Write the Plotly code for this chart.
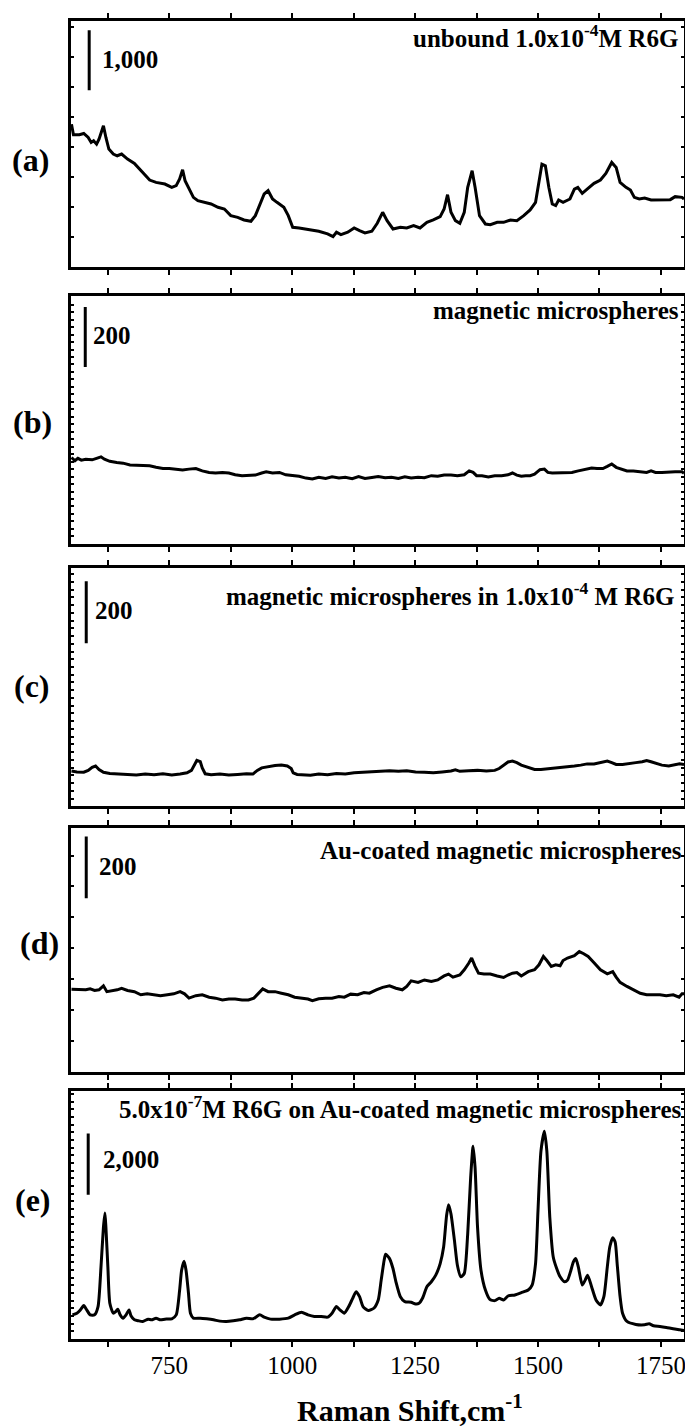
import plotly.graph_objects as go

# ---------------- data (Raman shift in cm-1, intensity in counts, offset arbitrary) ----------------
shift_a = [551, 555, 567, 576, 585, 591, 596, 602, 607, 616,
           621, 627, 636, 644, 653, 665, 679, 692, 701, 710,
           723, 741, 755, 764, 771, 777, 782, 790, 799, 808,
           822, 835, 849, 862, 875, 889, 902, 916, 925, 934,
           943, 951, 960, 969, 983, 992, 1001, 1014, 1037, 1054,
           1072, 1083, 1090, 1099, 1113, 1126, 1137, 1148, 1162, 1173,
           1184, 1193, 1205, 1220, 1233, 1247, 1260, 1274, 1287, 1301,
           1309, 1316, 1323, 1332, 1341, 1350, 1357, 1366, 1372, 1381,
           1393, 1403, 1417, 1430, 1444, 1457, 1471, 1484, 1495, 1502,
           1508, 1515, 1522, 1529, 1536, 1542, 1551, 1565, 1574, 1581,
           1590, 1600, 1614, 1627, 1638, 1650, 1659, 1667, 1679, 1688,
           1696, 1706, 1717, 1730, 1744, 1757, 1769, 1779, 1793, 1797]
counts_a = [2375, 2198, 2198, 2220, 2153, 2070, 2098, 2042, 2126, 2348,
            2153, 1959, 1876, 1848, 1876, 1793, 1721, 1598, 1515, 1443,
            1404, 1376, 1321, 1349, 1460, 1615, 1432, 1293, 1154, 1099,
            1071, 1043, 988, 960, 849, 821, 777, 755, 849, 1043,
            1210, 1265, 1127, 1071, 988, 849, 655, 644, 611, 588,
            544, 500, 572, 533, 572, 644, 599, 561, 588, 722,
            905, 766, 627, 655, 644, 683, 644, 738, 777, 833,
            960, 1199, 905, 766, 722, 905, 1321, 1598, 1321, 849,
            710, 699, 738, 738, 777, 766, 849, 944, 1071, 1432,
            1709, 1682, 1321, 1043, 1016, 1110, 1071, 1127, 1293, 1321,
            1221, 1293, 1388, 1443, 1554, 1737, 1654, 1404, 1321, 1277,
            1154, 1127, 1143, 1110, 1110, 1121, 1116, 1166, 1154, 1127]

shift_b = [551, 558, 564, 571, 580, 593, 602, 611, 618, 629,
           643, 656, 670, 683, 696, 710, 723, 737, 750, 764,
           777, 790, 804, 817, 831, 844, 858, 871, 884, 898,
           911, 925, 938, 947, 960, 974, 987, 1001, 1014, 1028,
           1041, 1054, 1068, 1081, 1095, 1108, 1122, 1135, 1148, 1162,
           1175, 1189, 1202, 1216, 1229, 1242, 1256, 1269, 1283, 1296,
           1309, 1323, 1336, 1350, 1360, 1368, 1375, 1386, 1399, 1412,
           1426, 1439, 1448, 1457, 1466, 1475, 1484, 1493, 1504, 1513,
           1520, 1529, 1542, 1556, 1569, 1582, 1596, 1609, 1620, 1632,
           1641, 1650, 1659, 1672, 1681, 1694, 1708, 1721, 1730, 1739,
           1752, 1766, 1779, 1793, 1797]
counts_b = [289, 278, 286, 280, 283, 281, 286, 291, 283, 276,
            272, 270, 264, 263, 261, 261, 256, 252, 252, 250,
            247, 250, 252, 244, 239, 237, 239, 237, 231, 228,
            230, 230, 237, 241, 237, 239, 231, 228, 226, 220,
            217, 223, 219, 224, 220, 223, 218, 225, 219, 222,
            225, 221, 223, 219, 224, 220, 223, 221, 228, 226,
            230, 230, 228, 231, 244, 239, 228, 228, 224, 228,
            228, 231, 237, 230, 226, 228, 228, 233, 248, 250,
            239, 237, 237, 239, 239, 244, 248, 254, 252, 252,
            259, 267, 256, 250, 244, 244, 242, 239, 244, 239,
            239, 241, 241, 241, 236]

shift_c = [551, 562, 576, 585, 593, 600, 607, 616, 629, 647,
           665, 683, 701, 719, 737, 755, 772, 786, 795, 801,
           806, 813, 817, 823, 835, 853, 871, 889, 907, 920,
           929, 938, 951, 965, 978, 990, 998, 1002, 1010, 1023,
           1037, 1054, 1072, 1090, 1108, 1126, 1144, 1162, 1180, 1198,
           1216, 1233, 1251, 1269, 1287, 1305, 1323, 1332, 1341, 1359,
           1377, 1395, 1412, 1421, 1430, 1439, 1448, 1457, 1466, 1480,
           1493, 1506, 1524, 1542, 1560, 1574, 1587, 1600, 1614, 1627,
           1641, 1650, 1659, 1672, 1685, 1699, 1712, 1721, 1730, 1744,
           1752, 1766, 1779, 1788, 1797]
counts_c = [114, 111, 110, 116, 126, 130, 119, 110, 106, 105,
            103, 101, 104, 102, 105, 101, 104, 108, 116, 135,
            148, 144, 124, 105, 102, 104, 101, 103, 105, 104,
            116, 124, 128, 132, 133, 130, 122, 108, 103, 101,
            100, 104, 102, 106, 104, 108, 109, 112, 113, 115,
            113, 115, 111, 110, 108, 111, 114, 118, 113, 115,
            116, 114, 116, 122, 133, 143, 146, 141, 133, 126,
            119, 119, 122, 124, 126, 130, 133, 137, 137, 141,
            146, 141, 135, 135, 137, 141, 144, 148, 144, 137,
            133, 130, 135, 137, 135]

shift_d = [551, 567, 580, 589, 598, 607, 616, 623, 634, 644,
           653, 665, 679, 692, 705, 719, 732, 746, 759, 772,
           781, 790, 804, 817, 831, 844, 858, 871, 884, 898,
           911, 922, 931, 940, 951, 965, 978, 992, 1005, 1019,
           1032, 1041, 1054, 1068, 1081, 1095, 1106, 1119, 1133, 1146,
           1157, 1171, 1184, 1198, 1211, 1224, 1233, 1242, 1256, 1269,
           1283, 1296, 1309, 1318, 1327, 1341, 1350, 1359, 1365, 1372,
           1379, 1390, 1403, 1417, 1430, 1439, 1448, 1457, 1466, 1480,
           1493, 1502, 1511, 1518, 1527, 1536, 1545, 1551, 1560, 1574,
           1584, 1593, 1602, 1614, 1627, 1641, 1652, 1659, 1667, 1681,
           1694, 1708, 1721, 1735, 1748, 1761, 1775, 1787, 1793, 1797]
counts_d = [267, 265, 265, 268, 263, 265, 278, 259, 262, 265,
            270, 263, 259, 249, 252, 249, 246, 249, 252, 259,
            252, 238, 246, 249, 241, 238, 232, 235, 235, 232,
            232, 238, 254, 268, 259, 259, 254, 249, 241, 238,
            235, 230, 236, 238, 238, 243, 241, 251, 249, 256,
            254, 265, 273, 278, 270, 265, 276, 294, 289, 297,
            292, 297, 310, 316, 306, 313, 330, 351, 368, 341,
            319, 316, 316, 310, 305, 313, 319, 321, 310, 324,
            330, 346, 373, 360, 341, 346, 343, 360, 368, 376,
            389, 382, 373, 353, 330, 317, 324, 306, 289, 276,
            265, 254, 249, 249, 249, 246, 249, 241, 252, 252]

shift_e = [553, 562, 569, 576, 582, 589, 598, 605, 611, 616,
           619, 621, 625, 629, 636, 641, 645, 650, 656, 662,
           668, 672, 679, 687, 696, 707, 714, 723, 732, 741,
           755, 764, 771, 775, 780, 784, 789, 793, 799, 813,
           826, 840, 853, 866, 880, 893, 907, 920, 934, 943,
           956, 974, 992, 1005, 1019, 1032, 1045, 1059, 1072, 1081,
           1090, 1097, 1106, 1115, 1123, 1130, 1137, 1144, 1155, 1166,
           1175, 1181, 1187, 1190, 1198, 1205, 1211, 1220, 1229, 1242,
           1251, 1258, 1265, 1274, 1283, 1292, 1301, 1308, 1314, 1318,
           1323, 1330, 1336, 1343, 1350, 1357, 1363, 1368, 1372, 1377,
           1384, 1393, 1402, 1412, 1421, 1430, 1439, 1453, 1466, 1480,
           1488, 1495, 1500, 1506, 1513, 1518, 1524, 1531, 1538, 1545,
           1554, 1560, 1566, 1572, 1577, 1582, 1590, 1596, 1601, 1609,
           1618, 1627, 1634, 1641, 1646, 1652, 1657, 1661, 1667, 1672,
           1681, 1699, 1717, 1726, 1735, 1748, 1761, 1775, 1788, 1797]
counts_e = [789, 843, 951, 1092, 951, 789, 789, 1059, 2357, 3654,
            4119, 3654, 2357, 1167, 843, 897, 973, 789, 681, 789,
            951, 757, 627, 595, 573, 649, 627, 681, 627, 649,
            659, 789, 1600, 2248, 2540, 2248, 1492, 843, 681, 681,
            659, 627, 584, 573, 595, 627, 681, 659, 789, 713,
            649, 649, 681, 789, 876, 789, 735, 735, 713, 843,
            1059, 951, 843, 1059, 1330, 1546, 1384, 1059, 930, 1005,
            1276, 1924, 2573, 2767, 2627, 2303, 1870, 1384, 1222, 1200,
            1146, 1167, 1330, 1708, 1870, 2086, 2465, 3005, 4032, 4389,
            4086, 3221, 2411, 2032, 2140, 3438, 5275, 6302, 5600, 3654,
            2248, 1600, 1297, 1254, 1330, 1276, 1405, 1438, 1513, 1600,
            1762, 2465, 4194, 6140, 6789, 6140, 3978, 2681, 2303, 2032,
            1870, 1924, 2194, 2519, 2627, 2357, 1762, 1924, 2086, 1708,
            1276, 1113, 1384, 2357, 3005, 3308, 3167, 2465, 1384, 843,
            573, 476, 465, 497, 432, 411, 378, 335, 303, 281]

panel_letters = ["(a)", "(b)", "(c)", "(d)", "(e)"]
panel_titles = ["unbound 1.0x10<sup>-4</sup>M R6G",
                "magnetic microspheres",
                "magnetic microspheres in 1.0x10<sup>-4</sup> M R6G",
                "Au-coated magnetic microspheres",
                "5.0x10<sup>-7</sup>M R6G on Au-coated magnetic microspheres"]
scale_values = [1000, 200, 200, 200, 2000]
scale_labels = ["1,000", "200", "200", "200", "2,000"]
tick_values = [750, 1000, 1250, 1500, 1750]
tick_labels = ["750", "1000", "1250", "1500", "1750"]
minor_tick_values = [625, 875, 1125, 1375, 1625]
x_title = "Raman Shift,cm<sup>-1</sup>"

# ---------------- layout / style configuration ----------------
series = [(shift_a, counts_a), (shift_b, counts_b), (shift_c, counts_c),
          (shift_d, counts_d), (shift_e, counts_e)]
X_RANGE = [550, 1797]
domains = [[0.8137, 1.0], [0.6033, 0.7911], [0.4042, 0.5852], [0.2029, 0.3876], [0.0, 0.1885]]
y_ranges = [[0, 4096], [0, 828], [0, 771], [0, 789], [0, 8118]]
y_dticks = [500, 25, 25, 100, 250]
bar_x = [587, 579, 581, 581, 585]
bar_top = [3940, 792, 727, 762, 6713]
label_x = [609, 591, 595, 603, 611]
label_y = [3457, 698, 632, 665, 5870]
title_x = [1788, 1790, 1780, 1796, 1794]
title_y = [3846, 782, 687, 718, 7570]
letter_x = [-0.0668, -0.0636, -0.0636, -0.0522, -0.0619]
letter_y = [0.8944, 0.6961, 0.4955, 0.3006, 0.1058]

FONT = "Liberation Serif, Times New Roman, serif"
BLACK = "#000000"

fig = go.Figure()
shapes = []
annotations = []
layout_axes = {}

for i, (xs, ys) in enumerate(series):
    n = i + 1
    xa = "x" if n == 1 else f"x{n}"
    ya = "y" if n == 1 else f"y{n}"
    fig.add_trace(go.Scatter(
        x=xs, y=ys, mode="lines", xaxis=xa, yaxis=ya,
        line=dict(color=BLACK, width=3,
                  shape="spline" if n == 5 else "linear",
                  smoothing=0.6 if n == 5 else None),
        showlegend=False, hoverinfo="skip"))

    is_bottom = (n == 5)
    layout_axes["xaxis" if n == 1 else f"xaxis{n}"] = dict(
        domain=[0, 1], anchor=ya, range=X_RANGE,
        showline=True, linewidth=3, linecolor=BLACK, mirror="allticks",
        ticks="outside", ticklen=5, tickwidth=2, tickcolor=BLACK,
        tickmode="array", tickvals=tick_values, ticktext=tick_labels,
        minor=dict(tickmode="array", tickvals=minor_tick_values, ticks="outside",
                   ticklen=5, tickwidth=2, tickcolor=BLACK, showgrid=False),
        showticklabels=is_bottom, ticklabelstandoff=-3,
        tickfont=dict(family=FONT, size=25, color=BLACK),
        showgrid=False, zeroline=False, fixedrange=True)
    layout_axes["yaxis" if n == 1 else f"yaxis{n}"] = dict(
        domain=domains[i], anchor=xa, range=y_ranges[i],
        showline=True, linewidth=3, linecolor=BLACK, mirror="ticks",
        ticks="inside", ticklen=3, tickwidth=1.5, tickcolor=BLACK,
        dtick=y_dticks[i], tick0=0,
        showticklabels=False, showgrid=False, zeroline=False, fixedrange=True)

    # intensity scale bar
    shapes.append(dict(type="line", xref=xa, yref=ya,
                       x0=bar_x[i], x1=bar_x[i],
                       y0=bar_top[i] - scale_values[i], y1=bar_top[i],
                       line=dict(color=BLACK, width=3)))
    annotations.append(dict(xref=xa, yref=ya, x=label_x[i], y=label_y[i],
                            text=f"<b>{scale_labels[i]}</b>", showarrow=False,
                            xanchor="left", yanchor="middle",
                            font=dict(family=FONT, size=25, color=BLACK)))
    annotations.append(dict(xref=xa, yref=ya, x=title_x[i], y=title_y[i],
                            text=f"<b>{panel_titles[i]}</b>", showarrow=False,
                            xanchor="right", yanchor="middle",
                            font=dict(family=FONT, size=25, color=BLACK)))
    annotations.append(dict(xref="paper", yref="paper", x=letter_x[i], y=letter_y[i],
                            text=f"<b>{panel_letters[i]}</b>", showarrow=False,
                            xanchor="center", yanchor="middle",
                            font=dict(family=FONT, size=32, color=BLACK)))

annotations.append(dict(xref="paper", yref="paper", x=0.5526, y=-0.052,
                        text=f"<b>{x_title}</b>", showarrow=False,
                        xanchor="center", yanchor="middle",
                        font=dict(family=FONT, size=30, color=BLACK)))

# the page keeps the browser's default 8 px body margin; the margins below put the
# plot area where the reference has it inside the 693x1428 window
fig.update_layout(
    width=685, height=1420,
    margin=dict(l=63, r=9, t=5, b=89),
    paper_bgcolor="white", plot_bgcolor="white",
    shapes=shapes, annotations=annotations,
    **layout_axes)

fig.write_html("out.html")
